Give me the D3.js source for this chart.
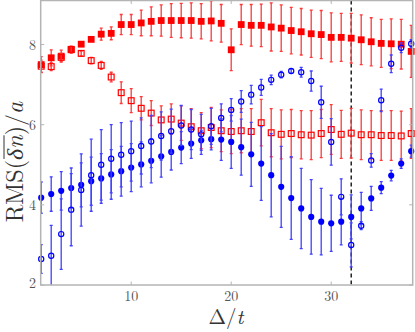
<!DOCTYPE html>
<html>
<head>
<meta charset="utf-8">
<script src="https://cdn.jsdelivr.net/npm/d3@7"></script>
<style>
    body { margin: 0; background: #fff; }
    svg text { font-family: "Latin Modern Roman", "Liberation Serif", "DejaVu Serif", serif; }
</style>
</head>
<body>
<div id="my_dataviz"></div>
<script>
// Delta/t values on the x axis
var deltas = [1, 2, 3, 4, 5, 6, 7, 8, 9, 10, 11, 12, 13, 14, 15, 16, 17, 18, 19, 20,
    21, 22, 23, 24, 25, 26, 27, 28, 29, 30, 31, 32, 33, 34, 35, 36, 37, 38];

// red filled squares
var redFilled = [7.50, 7.67, 7.71, 7.87, 8.01, 8.13, 8.26, 8.28, 8.50, 8.50, 8.54, 8.58, 8.60, 8.60, 8.60, 8.60, 8.58, 8.59, 8.53, 7.87,
    8.50, 8.48, 8.48, 8.44, 8.41, 8.35, 8.32, 8.27, 8.25, 8.18, 8.18, 8.16, 8.12, 8.07, 8.03, 8.02, 8.01, 7.83];
var redFilledErr = [0.20, 0.20, 0.15, 0.08, 0.05, 0.05, 0.15, 0.16, 0.25, 0.25, 0.32, 0.36, 0.39, 0.42, 0.43, 0.44, 0.44, 0.50, 0.47, 0.52,
    0.50, 0.52, 0.53, 0.60, 0.58, 0.58, 0.58, 0.59, 0.60, 0.61, 0.60, 0.62, 0.62, 0.60, 0.60, 0.62, 0.62, 0.65];

// red open squares
var redOpen = [7.46, 7.45, 7.68, 7.88, 7.78, 7.60, 7.48, 7.19, 6.80, 6.60, 6.41, 6.29, 6.12, 6.14, 6.04, 5.95, 5.85, 5.93, 5.85, 5.83,
    5.85, 5.83, 6.05, 5.80, 5.76, 5.78, 5.75, 5.74, 5.78, 5.88, 5.76, 5.79, 5.75, 5.75, 5.73, 5.73, 5.72, 5.78];
var redOpenErr = [0.15, 0.10, 0.10, 0.08, 0.06, 0.08, 0.10, 0.12, 0.27, 0.30, 0.29, 0.31, 0.35, 0.38, 0.43, 0.45, 0.45, 0.50, 0.52, 0.55,
    0.55, 0.57, 0.58, 0.60, 0.61, 0.60, 0.60, 0.61, 0.60, 0.62, 0.60, 0.62, 0.62, 0.60, 0.62, 0.62, 0.62, 0.62];

// blue filled circles
var blueFilled = [4.18, 4.27, 4.35, 4.42, 4.50, 4.59, 4.66, 4.76, 4.84, 4.93, 5.01, 5.10, 5.21, 5.32, 5.43, 5.53, 5.61, 5.64, 5.63, 5.57,
    5.44, 5.26, 5.03, 4.74, 4.45, 4.17, 3.91, 3.70, 3.58, 3.54, 3.58, 3.70, 3.91, 4.16, 4.43, 4.73, 5.03, 5.34];
var blueFilledErr = [0.39, 0.43, 0.48, 0.50, 0.55, 0.60, 0.62, 0.62, 0.62, 0.60, 0.56, 0.55, 0.52, 0.45, 0.40, 0.37, 0.25, 0.27, 0.52, 0.66,
    0.70, 0.80, 0.92, 1.04, 1.01, 1.03, 1.00, 0.93, 0.83, 0.70, 0.58, 0.55, 0.40, 0.30, 0.15, 0.13, 0.12, 0.15];

// blue open circles
var blueOpen = [2.65, 2.73, 3.27, 3.88, 4.37, 4.74, 5.00, 5.15, 5.25, 5.34, 5.47, 5.58, 5.72, 5.84, 5.98, 5.88, 5.76, 5.96, 6.17, 6.37,
    6.58, 6.75, 6.93, 7.12, 7.25, 7.34, 7.31, 7.09, 6.56, 5.57, 4.20, 3.00, 3.48, 5.11, 6.61, 7.52, 7.92, 8.02];
var blueOpenErr = [0.36, 0.76, 0.88, 0.90, 0.90, 0.90, 0.88, 0.85, 0.80, 0.75, 0.70, 0.65, 0.60, 0.55, 0.50, 0.50, 0.50, 0.45, 0.35, 0.28,
    0.27, 0.23, 0.20, 0.12, 0.08, 0.05, 0.12, 0.25, 0.40, 0.58, 0.45, 0.55, 0.10, 0.17, 0.28, 0.22, 0.12, 0.10];

var xTicks = [10, 20, 30];
var yTicks = [2, 4, 6, 8];
var criticalDelta = [32];

function drawChart() {
    // set the dimensions of the graph
    var width = 415;
    var height = 332;
    var plotLeft = 40.7, plotRight = 412.7, plotTop = 0.5, plotBottom = 285;
    var axisColor = "#b4b4b4";
    var labelColor = "#555";

    var svg = d3.select("#my_dataviz")
        .append("svg")
        .attr("width", width)
        .attr("height", height);

    var x = d3.scaleLinear().domain([0.95, 38.15]).range([plotLeft, plotRight]);
    var y = d3.scaleLinear().domain([2, 9.1]).range([plotBottom, plotTop]);

    svg.append("clipPath")
        .attr("id", "plotclip")
        .append("rect")
        .attr("x", plotLeft).attr("y", plotTop)
        .attr("width", plotRight - plotLeft).attr("height", plotBottom - plotTop);

    // dashed vertical line
    svg.selectAll(".crit")
        .data(criticalDelta)
        .enter()
        .append("line")
        .attr("x1", d => x(d)).attr("x2", d => x(d))
        .attr("y1", plotTop).attr("y2", plotBottom)
        .attr("stroke", "#000")
        .attr("stroke-width", 1.3)
        .attr("stroke-dasharray", "4,3");

    function buildSeries(vals, errs) {
        return deltas.map(function(d, i) {
            return { x: d, v: vals[i], e: errs[i] };
        });
    }

    // draw error bars + markers for one series
    function drawSeries(data, color, barColor, shape, filled) {
        var g = svg.append("g");
        var bars = g.append("g").attr("clip-path", "url(#plotclip)");
        bars.selectAll("line.bar")
            .data(data)
            .enter()
            .append("line")
            .attr("x1", d => x(d.x)).attr("x2", d => x(d.x))
            .attr("y1", d => y(d.v - d.e)).attr("y2", d => y(d.v + d.e))
            .attr("stroke", barColor)
            .attr("stroke-width", 1.3);
        // small caps on the bars
        [-1, 1].forEach(function(s) {
            bars.selectAll("line.cap" + (s > 0 ? "up" : "dn"))
                .data(data)
                .enter()
                .append("line")
                .attr("x1", d => x(d.x) - 1.5).attr("x2", d => x(d.x) + 1.5)
                .attr("y1", d => y(d.v + s * d.e)).attr("y2", d => y(d.v + s * d.e))
                .attr("stroke", barColor)
                .attr("stroke-width", 1.3);
        });

        if (shape === "square") {
            var s = filled ? 6.8 : 5.8;
            g.selectAll("rect")
                .data(data)
                .enter()
                .append("rect")
                .attr("x", d => x(d.x) - s / 2)
                .attr("y", d => y(d.v) - s / 2)
                .attr("width", s).attr("height", s)
                .attr("fill", filled ? color : "none")
                .attr("stroke", color)
                .attr("stroke-width", filled ? 0 : 1.2);
        } else {
            g.selectAll("circle")
                .data(data)
                .enter()
                .append("circle")
                .attr("cx", d => x(d.x))
                .attr("cy", d => y(d.v))
                .attr("r", filled ? 3.1 : 2.6)
                .attr("fill", filled ? color : "none")
                .attr("stroke", color)
                .attr("stroke-width", filled ? 0 : 1.2);
        }
    }

    drawSeries(buildSeries(redFilled, redFilledErr), "#ff0000", "#ff3838", "square", true);
    drawSeries(buildSeries(redOpen, redOpenErr), "#ff0000", "#ff3838", "square", false);
    drawSeries(buildSeries(blueFilled, blueFilledErr), "#0000ff", "#4040ff", "circle", true);
    drawSeries(buildSeries(blueOpen, blueOpenErr), "#0000ff", "#4040ff", "circle", false);

    // frame
    svg.append("rect")
        .attr("x", plotLeft).attr("y", plotTop)
        .attr("width", plotRight - plotLeft).attr("height", plotBottom - plotTop)
        .attr("fill", "none")
        .attr("stroke", axisColor)
        .attr("stroke-width", 1.5);

    // ticks pointing inwards, on all four sides
    var tl = 3.5;
    xTicks.forEach(function(t) {
        svg.append("line").attr("x1", x(t)).attr("x2", x(t)).attr("y1", plotBottom).attr("y2", plotBottom - tl)
            .attr("stroke", axisColor).attr("stroke-width", 1);
        svg.append("line").attr("x1", x(t)).attr("x2", x(t)).attr("y1", plotTop).attr("y2", plotTop + tl)
            .attr("stroke", axisColor).attr("stroke-width", 1);
    });
    yTicks.forEach(function(t) {
        svg.append("line").attr("x1", plotLeft).attr("x2", plotLeft + tl).attr("y1", y(t)).attr("y2", y(t))
            .attr("stroke", axisColor).attr("stroke-width", 1);
        svg.append("line").attr("x1", plotRight).attr("x2", plotRight - tl).attr("y1", y(t)).attr("y2", y(t))
            .attr("stroke", axisColor).attr("stroke-width", 1);
    });

    // tick labels
    svg.selectAll(".xlab")
        .data(xTicks)
        .enter()
        .append("text")
        .attr("x", d => x(d))
        .attr("y", 301)
        .attr("text-anchor", "middle")
        .attr("font-size", 14)
        .attr("fill", labelColor)
        .text(d => d);

    svg.selectAll(".ylab")
        .data(yTicks)
        .enter()
        .append("text")
        .attr("x", 36)
        .attr("y", d => Math.min(y(d) + 5, 288))
        .attr("text-anchor", "end")
        .attr("font-size", 14)
        .attr("fill", labelColor)
        .text(d => d);

    // x axis title
    var xt = svg.append("text")
        .attr("x", 226)
        .attr("y", 324)
        .attr("text-anchor", "middle")
        .attr("font-size", 21)
        .attr("fill", "#333");
    xt.append("tspan").text("Δ/");
    xt.append("tspan").attr("font-style", "italic").text("t");

    // y axis title, rotated, with overline on δn
    var yg = svg.append("g").attr("transform", "translate(23,162) rotate(-90)");
    var pieces = [
        { t: "RMS(", italic: false },
        { t: "δn", italic: true, over: true },
        { t: ")/", italic: false },
        { t: "a", italic: true }
    ];
    var pos = 0;
    pieces.forEach(function(p) {
        var el = yg.append("text")
            .attr("x", pos)
            .attr("y", 0)
            .attr("font-size", 24)
            .attr("fill", "#333")
            .attr("font-style", p.italic ? "italic" : "normal")
            .text(p.t);
        var w = el.node().getComputedTextLength();
        if (p.over) {
            yg.append("line")
                .attr("x1", pos + 1).attr("x2", pos + w)
                .attr("y1", -19).attr("y2", -19)
                .attr("stroke", "#333").attr("stroke-width", 1);
        }
        pos += w;
    });
    // center the whole label
    yg.selectAll("*").attr("transform", "translate(" + (-pos / 2) + ",0)");
}

drawChart();
</script>
</body>
</html>
